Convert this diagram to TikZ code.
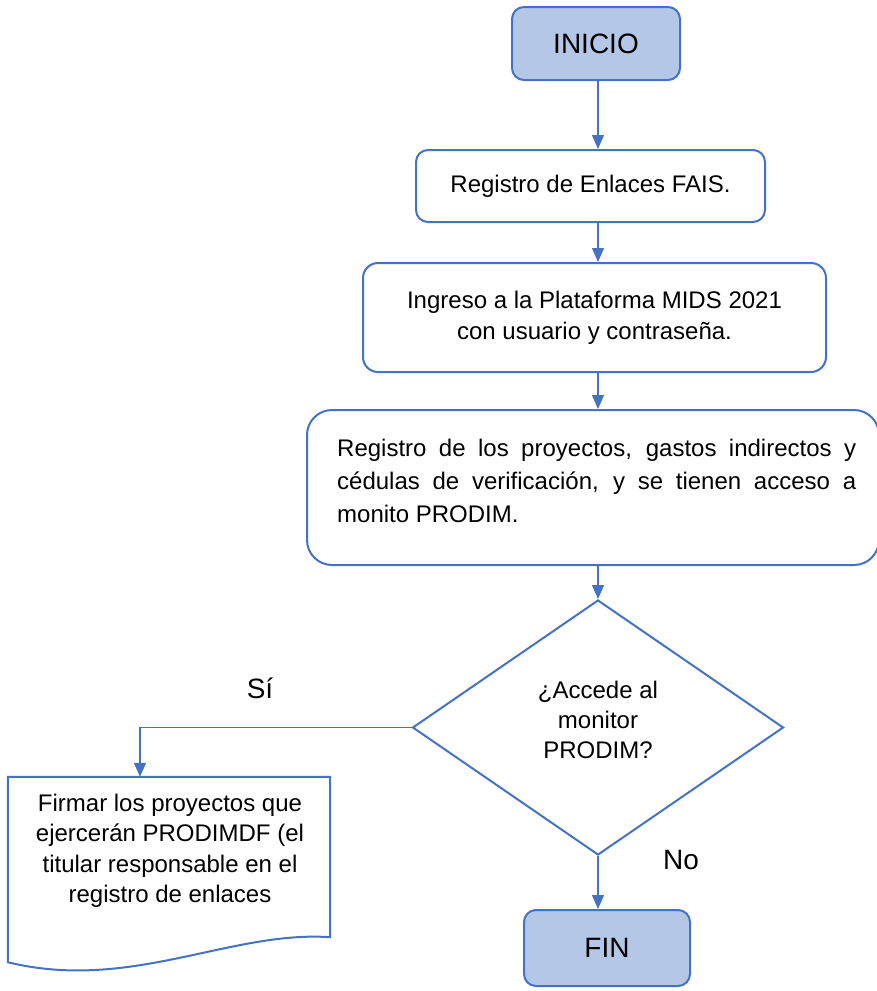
\documentclass[tikz,border=0pt]{standalone}
\usepackage{fontspec}
\setmainfont{Liberation Sans}
\usetikzlibrary{shapes.geometric,arrows.meta}
\definecolor{lineblue}{HTML}{4472C4}
\definecolor{fillblue}{HTML}{B4C7E7}
\begin{document}
\begin{tikzpicture}[x=1pt,y=-1pt,
  txt/.style={font=\fontsize{24}{31}\selectfont},
  big/.style={font=\fontsize{28}{32}\selectfont},
  term/.style={draw=lineblue,line width=2pt,fill=fillblue,rounded corners=12pt,big},
  proc/.style={draw=lineblue,line width=2pt,fill=white,txt},
  conn/.style={draw=lineblue,line width=1.3pt,-{Triangle[length=14pt,width=12pt]}},
]
\useasboundingbox (0,0) rectangle (876,991);
\node[term,minimum width=168pt,minimum height=73pt] (ini) at (596,43.5) {INICIO};
\node[proc,rounded corners=12pt,minimum width=349pt,minimum height=72pt] (b1) at (590.5,186) {Registro de Enlaces FAIS.};
\node[proc,rounded corners=15pt,minimum width=463pt,minimum height=109pt,align=center] (b2) at (594.5,317.5) {Ingreso a la Plataforma MIDS 2021\\con usuario y contraseña.};
\node[proc,rounded corners=25pt,minimum width=572pt,minimum height=155pt] (b3) at (593,487.5) {};
\node[font=\fontsize{24}{33}\selectfont,text width=519pt,align=justify,anchor=north west,inner sep=0pt] (b3t) at (337,439) {Registro de los proyectos, gastos indirectos y\linebreak cédulas de verificación, y se tienen acceso a\linebreak monito PRODIM.};
\node[draw=lineblue,line width=2pt,diamond,minimum width=371pt,minimum height=255pt,inner sep=0pt,aspect=1.455] (dec) at (598,727.5) {};
\node[txt,align=center,font=\fontsize{24}{30}\selectfont] (dect) at (598,720) {¿Accede al\\monitor\\PRODIM?};
\node[minimum width=322pt,minimum height=160pt,inner sep=0pt] (doc) at (169,857) {};
\node[txt,align=center,font=\fontsize{24}{30.5}\selectfont] (doct) at (170,851) {Firmar los proyectos que\\ejercerán PRODIMDF (el\\titular responsable en el\\registro de enlaces};
\draw[draw=lineblue,line width=2pt] (doc.south west) -- (doc.north west) -- (doc.north east) -- (doc.south east)
  .. controls +(-100,-7) and +(122,30) .. ([yshift=-25pt]doc.south west) -- cycle;
\node[term,minimum width=166pt,minimum height=76pt] (fin) at (607,948) {FIN};
\coordinate (corner) at (140,727.5);
\node[big] (si) at (260,688) {Sí};
\node[big] (no) at (681,860) {No};
\draw[conn] (ini.south -| 598,0) -- (b1.north -| 598,0);
\draw[conn] (b1.south -| 598,0) -- (b2.north -| 598,0);
\draw[conn] (b2.south -| 598,0) -- (b3.north -| 598,0);
\draw[conn] (b3.south -| 598,0) -- (dec.north);
\draw[conn] (dec.west) -- (corner) -- (corner |- doc.north);
\draw[conn] (dec.south) -- (fin.north -| dec.south);
\end{tikzpicture}
\end{document}
